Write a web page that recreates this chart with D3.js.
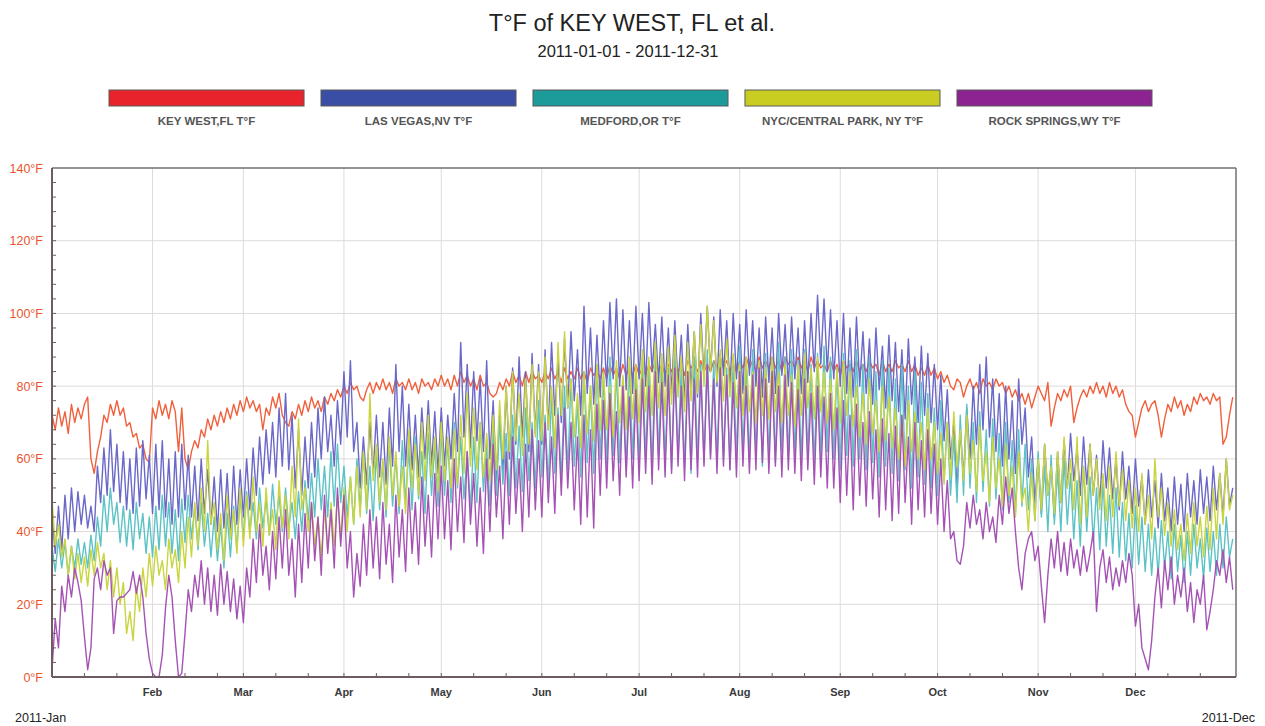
<!DOCTYPE html>
<html>
<head>
<meta charset="utf-8">
<script src="https://cdn.jsdelivr.net/npm/d3@7"></script>
<style>
body { margin: 0; background: #fff; }
text { font-family: "Liberation Sans", Arial, sans-serif; }
</style>
</head>
<body>
<svg width="1265" height="726"></svg>
<script>
// series names, legend colours and line colours
var seriesNames = ["KEY WEST,FL T°F", "LAS VEGAS,NV T°F", "MEDFORD,OR T°F", "NYC/CENTRAL PARK, NY T°F", "ROCK SPRINGS,WY T°F"];
var legendColors = ["#e8232b", "#3a4ea6", "#1d9a9a", "#c9cd22", "#8d2291"];
var lineColors = ["#f0603c", "#6a68c8", "#5cc2c6", "#c9d43e", "#a552b5"];

var yTicks = [0, 20, 40, 60, 80, 100, 120, 140];
var monthLabels = ["Feb", "Mar", "Apr", "May", "Jun", "Jul", "Aug", "Sep", "Oct", "Nov", "Dec"];

// one reading per day, 2011-01-01 .. 2011-12-31 (alternating day highs / night lows)
var keyWest = [
  72,68,74,69,73,67,75,70,74,71, 75,77,60,56,62,66,72,70,75,72, 76,72,74,69,70,66,67,63,64,60,
  59,74,71,76,72,75,71,76,73,62, 74,60,57,62,65,63,68,66,71,68, 72,69,73,70,74,71,75,72,76,73,
  77,74,76,73,75,68,74,72,77,74, 78,72,70,69,73,71,75,72,76,73, 77,74,76,73,77,75,78,76,79,77,
  80,78,81,79,80,77,76,79,81,78, 81,79,82,79,81,78,82,80,81,79, 82,79,81,78,82,80,81,79,82,80,
  83,80,82,79,83,80,84,81,83,80, 82,79,83,80,81,78,77,78,81,79, 82,80,84,81,83,80,84,81,84,82,
  83,81,84,82,85,82,84,81,85,82, 84,82,85,82,84,81,85,83,84,82, 85,82,86,83,85,82,86,83,85,83,
  86,83,85,83,86,84,87,84,86,83, 86,84,87,84,86,83,87,85,86,84, 87,84,86,84,87,85,88,85,87,84,
  86,84,87,85,88,85,87,84,88,85, 87,85,88,85,87,84,88,86,87,85, 88,85,87,84,88,85,87,85,86,84,
  87,84,86,83,87,85,86,84,87,84, 86,84,87,85,86,83,87,84,86,84, 87,85,86,84,87,84,86,83,85,83,
  86,83,85,82,84,81,83,80,79,82, 81,77,80,82,79,81,78,82,80,81, 79,82,80,81,78,80,77,79,76,78,
  75,78,74,77,80,78,76,81,69,74, 78,76,79,77,80,70,74,77,79,77, 80,78,81,78,80,77,81,78,80,77,
  79,75,73,72,66,70,74,76,73,75, 76,72,66,71,75,73,77,74,76,72, 75,73,77,75,78,76,77,75,78,76,
  77,64,66,72,77
];
var lasVegas = [
  45,34,47,35,50,38,52,40,51,42, 50,41,47,40,58,48,63,50,68,51, 64,48,62,46,60,45,63,47,65,49,
  61,45,64,46,65,44,60,42,62,44, 64,46,61,44,58,43,60,45,57,42, 55,40,57,41,56,39,58,42,57,44,
  60,46,63,50,66,53,68,56,70,55, 74,58,78,57,72,52,68,50,66,52, 70,55,74,60,77,62,72,58,76,64,
  84,66,87,62,70,52,66,53,70,56, 72,55,70,53,74,58,86,62,80,58, 75,57,72,55,74,60,76,58,73,56,
  74,58,72,60,78,62,92,66,86,63, 84,65,82,62,87,60,76,54,72,56, 80,60,85,64,88,66,84,62,89,67,
  86,64,90,68,92,72,88,70,93,74, 95,76,90,72,102,78,96,75,94,77, 98,80,103,82,104,80,101,79,98,78,
  102,82,100,80,103,84,97,81,99,80, 96,78,98,80,94,76,97,79,95,77, 100,82,102,84,99,80,101,83,98,79,
  100,82,97,78,101,83,98,80,96,77, 99,81,96,78,100,83,97,80,99,82, 96,78,98,81,100,84,105,86,104,84,
  101,82,98,80,100,78,96,77,99,80, 95,78,93,75,96,79,91,74,94,76, 92,73,90,71,93,75,88,70,91,72,
  89,70,86,68,83,65,79,60,70,52, 68,55,74,60,80,64,86,68,88,66, 82,62,78,58,80,60,76,56,82,64,
  74,55,66,48,60,45,64,50,58,44, 62,48,65,52,67,54,63,50,66,53, 64,50,61,47,65,52,63,49,60,46,
  62,49,58,45,60,47,55,42,57,44, 54,41,56,43,52,40,55,42,53,40, 56,44,54,42,57,45,55,43,58,46,
  56,44,60,47,52
];
var medford = [
  36,29,38,30,37,28,36,30,38,31, 37,30,39,32,44,36,50,40,52,42, 48,37,47,36,46,35,48,38,45,34,
  44,33,47,35,50,36,48,34,46,32, 49,37,50,38,47,35,48,36,45,33, 44,32,42,30,45,33,47,35,50,38,
  51,40,48,38,52,41,49,39,53,42, 50,40,52,41,48,38,51,40,54,43, 56,44,60,46,58,44,62,47,64,48,
  58,44,55,42,60,46,62,45,58,43, 62,46,59,44,64,47,61,45,65,48, 63,46,66,49,62,45,67,50,64,47,
  68,50,65,48,70,52,66,49,62,46, 66,48,70,51,64,47,68,50,71,53, 67,50,72,52,69,51,74,54,70,52,
  76,55,72,53,78,56,74,54,80,57, 82,58,76,55,84,59,80,56,86,60, 83,58,88,61,85,59,82,57,86,60,
  84,58,88,60,86,57,90,61,87,59, 85,57,89,60,86,58,84,56,88,60, 86,59,90,61,87,58,89,60,85,57,
  88,60,91,62,87,59,90,61,86,58, 89,60,87,59,92,62,88,60,90,61, 87,59,90,61,86,58,89,60,91,62,
  88,60,85,57,89,61,87,58,90,60, 86,57,88,59,84,55,87,58,85,56, 82,54,86,57,80,52,84,55,81,53,
  78,52,74,50,76,54,70,50,66,48, 72,50,75,52,70,48,73,51,68,47, 71,49,67,46,70,48,65,45,68,47,
  64,46,60,43,62,44,58,40,61,42, 57,40,60,42,56,38,54,36,58,40, 55,37,52,35,54,36,50,34,52,33,
  48,32,45,30,47,31,44,29,42,28, 41,28,43,30,40,27,42,29,39,26, 40,28,42,30,38,27,41,29,40,28,
  42,30,44,33,38
];
var nyc = [
  49,36,42,33,38,28,36,27,34,26, 33,25,35,28,37,30,34,24,32,22, 30,20,26,12,18,10,25,18,30,22,
  34,25,36,28,32,24,38,30,35,26, 40,30,44,33,48,36,52,40,65,42, 48,35,45,32,50,38,46,34,52,36,
  50,38,55,40,48,36,52,39,46,35, 54,41,50,38,58,44,71,46,52,40, 48,36,44,33,46,35,48,36,50,38,
  52,40,55,42,58,44,62,46,78,54, 64,48,60,46,66,50,62,47,58,45, 68,52,64,50,70,54,72,55,66,51,
  70,54,66,52,68,53,72,56,78,58, 74,57,70,55,67,54,72,57,76,60, 80,62,84,65,78,61,82,64,86,66,
  84,65,88,68,80,63,92,72,95,74, 82,66,78,63,84,67,80,65,86,68, 84,68,80,66,87,70,83,68,88,71,
  86,70,90,73,88,72,92,74,89,72, 91,75,94,77,88,73,92,76,95,78, 97,80,102,84,98,81,90,76,93,77,
  89,74,86,72,88,73,84,70,87,72, 85,71,88,73,84,70,86,72,83,69, 86,72,89,74,85,71,88,73,84,70,
  82,68,85,70,87,72,84,69,80,66, 78,64,82,67,76,62,80,65,77,63, 74,60,72,58,76,62,73,60,70,57,
  74,60,70,56,67,53,70,55,73,58, 68,54,72,56,65,51,69,54,62,48, 66,52,60,47,64,50,58,44,62,48,
  52,40,56,43,60,46,64,50,58,45, 62,48,66,52,60,46,66,42,58,44, 64,50,60,46,56,43,58,44,62,47,
  57,43,54,41,52,40,56,42,50,38, 60,44,52,39,48,36,46,35,42,32, 45,34,48,36,44,33,47,35,52,38,
  56,42,60,46,50
];
var rockSprings = [
  2,16,8,25,18,28,22,30,26,21, 11,2,8,27,30,24,32,28,30,12, 21,22,22,23,24,29,23,28,22,12,
  5,1,0,0,6,19,28,22,10,0, 1,12,24,18,28,22,32,20,30,18, 28,17,31,20,29,18,27,16,25,15,
  30,22,38,26,42,28,36,24,40,27, 44,30,46,28,38,22,42,26,45,30, 48,32,44,28,50,34,46,30,52,36,
  50,30,40,22,34,25,42,28,46,30, 44,27,48,31,42,26,50,33,46,29, 52,34,48,31,55,36,50,33,56,38,
  58,38,54,35,60,40,55,37,62,42, 56,36,52,34,60,40,64,44,58,38, 62,42,66,45,60,40,64,44,68,46,
  65,44,70,48,66,45,72,50,74,52, 70,46,66,42,72,44,68,41,75,50, 76,52,78,54,73,50,80,55,77,52,
  79,54,82,56,80,53,84,57,81,55, 83,56,85,58,80,54,84,57,82,55, 84,58,86,60,82,56,85,58,83,57,
  81,55,84,58,80,56,83,57,85,59, 82,56,84,58,80,55,83,57,81,56, 79,54,82,57,78,53,80,55,77,52,
  78,52,74,48,76,50,72,46,75,50, 70,47,73,49,68,44,71,46,67,43, 69,45,72,48,66,42,70,46,65,44,
  68,45,64,42,60,40,54,38,40,32, 31,36,48,41,50,42,46,38,48,40, 44,37,50,42,55,45,52,40,30,24,
  34,38,40,32,36,25,15,28,38,30, 40,29,37,28,38,30,35,28,36,29, 34,40,18,30,35,26,33,24,30,25,
  32,26,34,28,14,20,8,5,2,10, 22,30,19,32,24,33,20,28,22,30, 18,26,15,24,20,28,13,18,24,32,
  28,35,26,33,24
];

var seriesValues = [keyWest, lasVegas, medford, nyc, rockSprings];

var svg = d3.select("svg");
var plotLeft = 52, plotRight = 1236, plotTop = 168, plotBottom = 677;
var start = new Date(2011, 0, 1), end = new Date(2012, 0, 1);

var x = d3.scaleTime().domain([start, end]).range([plotLeft, plotRight]);
var y = d3.scaleLinear().domain([0, 140]).range([plotBottom, plotTop]);

// titles
svg.append("text").attr("x", 632).attr("y", 31).attr("text-anchor", "middle")
  .style("font-size", "23.5px").style("fill", "#222").text("T°F of KEY WEST, FL et al.");
svg.append("text").attr("x", 628).attr("y", 57).attr("text-anchor", "middle")
  .style("font-size", "16.5px").style("fill", "#222").text("2011-01-01 - 2011-12-31");

// legend
var legendX = d3.scaleBand().domain(seriesNames).range([109, 1152]).paddingInner(0.08);
var legend = svg.append("g").selectAll("g").data(seriesNames).enter().append("g");
legend.append("rect")
  .attr("x", function(d) { return legendX(d); })
  .attr("y", 90).attr("width", legendX.bandwidth()).attr("height", 16)
  .attr("fill", function(d, i) { return legendColors[i]; })
  .attr("stroke", "#5a5a5a").attr("stroke-width", 1);
legend.append("text")
  .attr("x", function(d) { return legendX(d) + legendX.bandwidth() / 2; })
  .attr("y", 125).attr("text-anchor", "middle")
  .style("font-size", "11.5px").style("font-weight", "bold").style("fill", "#555")
  .text(function(d) { return d; });

// grid
var grid = svg.append("g");
grid.selectAll("line.h").data(yTicks.slice(1, -1)).enter().append("line")
  .attr("x1", plotLeft).attr("x2", plotRight)
  .attr("y1", function(d) { return y(d); }).attr("y2", function(d) { return y(d); })
  .attr("stroke", "#dedada").attr("stroke-width", 1);
var months = d3.timeMonth.range(new Date(2011, 1, 1), end);
grid.selectAll("line.v").data(months).enter().append("line")
  .attr("x1", function(d) { return x(d); }).attr("x2", function(d) { return x(d); })
  .attr("y1", plotTop).attr("y2", plotBottom)
  .attr("stroke", "#dedada").attr("stroke-width", 1);

// frame
svg.append("line").attr("x1", plotLeft).attr("x2", plotRight).attr("y1", plotTop).attr("y2", plotTop)
  .attr("stroke", "#707070").attr("stroke-width", 1.5);
svg.append("line").attr("x1", plotRight).attr("x2", plotRight).attr("y1", plotTop).attr("y2", plotBottom)
  .attr("stroke", "#707070").attr("stroke-width", 1.5);

// lines
svg.append("clipPath").attr("id", "plotclip").append("rect")
  .attr("x", plotLeft).attr("y", plotTop).attr("width", plotRight - plotLeft).attr("height", plotBottom - plotTop);

var line = d3.line()
  .x(function(d, i) { return x(d3.timeDay.offset(start, i)); })
  .y(function(d) { return y(d); });

svg.append("g").attr("clip-path", "url(#plotclip)")
  .selectAll("path").data(seriesValues).enter().append("path")
  .attr("d", line)
  .attr("fill", "none")
  .attr("stroke", function(d, i) { return lineColors[i]; })
  .attr("stroke-width", 1.4)
  .attr("stroke-linejoin", "round");

// axes
svg.append("line").attr("x1", plotLeft).attr("x2", plotLeft).attr("y1", plotTop).attr("y2", plotBottom)
  .attr("stroke", "#6b5c62").attr("stroke-width", 2);
svg.append("line").attr("x1", plotLeft).attr("x2", plotRight).attr("y1", plotBottom).attr("y2", plotBottom)
  .attr("stroke", "#6b5c62").attr("stroke-width", 2);

svg.append("g").selectAll("line").data(d3.range(4, 140, 4)).enter().append("line")
  .attr("x1", plotLeft).attr("x2", plotLeft + 4)
  .attr("y1", function(d) { return y(d); }).attr("y2", function(d) { return y(d); })
  .attr("stroke", "#6b5c62").attr("stroke-width", 1);

var xTickDays = d3.timeDay.range(start, end).filter(function(d) {
  return d.getDate() == 1 || d.getDate() == 11 || d.getDate() == 21;
});
svg.append("g").selectAll("line").data(xTickDays.slice(1)).enter().append("line")
  .attr("x1", function(d) { return x(d); }).attr("x2", function(d) { return x(d); })
  .attr("y1", plotBottom).attr("y2", plotBottom - 4)
  .attr("stroke", "#6b5c62").attr("stroke-width", 1);

svg.append("g").selectAll("text").data(yTicks).enter().append("text")
  .attr("x", 43).attr("y", function(d) { return y(d) + 4.5; })
  .attr("text-anchor", "end")
  .style("font-size", "12.5px").style("fill", "#e8542e")
  .text(function(d) { return d + "°F"; });

svg.append("g").selectAll("text").data(months).enter().append("text")
  .attr("x", function(d) { return x(d); }).attr("y", 696)
  .attr("text-anchor", "middle")
  .style("font-size", "11px").style("font-weight", "bold").style("fill", "#3a3a3a")
  .text(function(d, i) { return monthLabels[i]; });

svg.append("text").attr("x", 15).attr("y", 722)
  .style("font-size", "12.5px").style("fill", "#222").text("2011-Jan");
svg.append("text").attr("x", 1255).attr("y", 722).attr("text-anchor", "end")
  .style("font-size", "12.5px").style("fill", "#222").text("2011-Dec");
</script>
</body>
</html>
